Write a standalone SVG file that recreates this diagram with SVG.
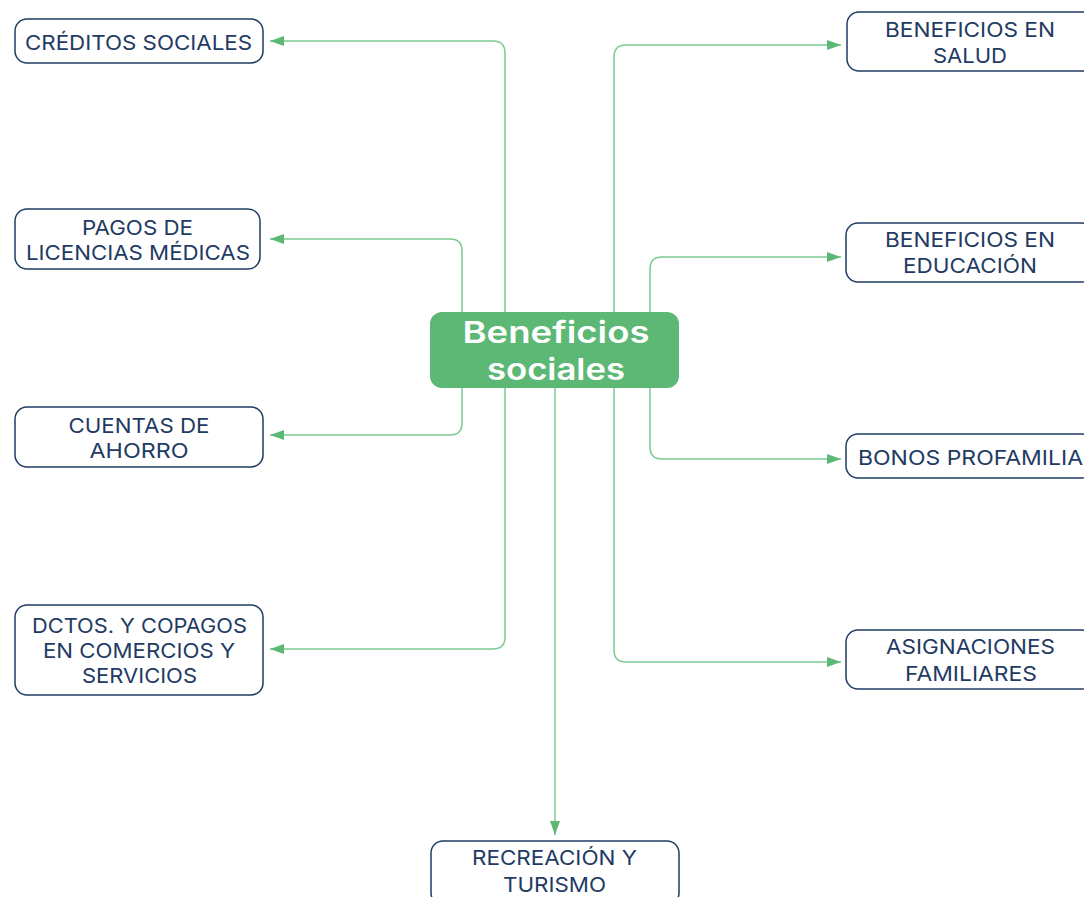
<svg xmlns="http://www.w3.org/2000/svg" width="1084" height="897" viewBox="0 0 1084 897">
<style>
.box{fill:#ffffff;stroke:#1f3b63;stroke-width:1.5}
.lbl{font-family:Inter,"DejaVu Sans",sans-serif;font-weight:400;font-size:20px;fill:#1f3b63;text-anchor:middle}
.main{font-family:Inter,"DejaVu Sans",sans-serif;font-weight:600;font-size:30px;fill:#ffffff;text-anchor:middle}
.con{fill:none;stroke:#7ccb94;stroke-width:1.5}
</style>
<defs>
<marker id="arr" markerUnits="userSpaceOnUse" markerWidth="14" markerHeight="10" refX="14" refY="5" orient="auto">
<path d="M0,0 L14,5 L0,10 z" fill="#5cb874"/>
</marker>
</defs>
<g id="connectors">
<path class="con" marker-end="url(#arr)" d="M505,312 V53 Q505,41 493,41 H270"/>
<path class="con" marker-end="url(#arr)" d="M462,312 V251 Q462,239 450,239 H270"/>
<path class="con" marker-end="url(#arr)" d="M462,388 V423 Q462,435 450,435 H270"/>
<path class="con" marker-end="url(#arr)" d="M505,388 V637 Q505,649 493,649 H270"/>
<path class="con" marker-end="url(#arr)" d="M614,312 V57 Q614,45 626,45 H841"/>
<path class="con" marker-end="url(#arr)" d="M650,312 V269 Q650,257 662,257 H841"/>
<path class="con" marker-end="url(#arr)" d="M650,388 V447 Q650,459 662,459 H841"/>
<path class="con" marker-end="url(#arr)" d="M614,388 V650 Q614,662 626,662 H841"/>
<path class="con" marker-end="url(#arr)" d="M555,388 V835"/>
</g>
<g id="center">
<rect x="430" y="312" width="249" height="76" rx="12" fill="#5cb874"/>
<text class="main" x="556" y="343" textLength="187" lengthAdjust="spacingAndGlyphs">Beneficios</text>
<text class="main" x="556" y="380" textLength="138" lengthAdjust="spacingAndGlyphs">sociales</text>
</g>
<g id="creditos">
<rect class="box" x="15" y="19" width="248" height="44" rx="12"/>
<text class="lbl" x="138.5" y="50" textLength="227" lengthAdjust="spacingAndGlyphs">CRÉDITOS SOCIALES</text>
</g>
<g id="pagos">
<rect class="box" x="15" y="209" width="245" height="60" rx="12"/>
<text class="lbl" x="137.5" y="235" textLength="111" lengthAdjust="spacingAndGlyphs">PAGOS DE</text>
<text class="lbl" x="138" y="260" textLength="224" lengthAdjust="spacingAndGlyphs">LICENCIAS MÉDICAS</text>
</g>
<g id="cuentas">
<rect class="box" x="15" y="407" width="248" height="60" rx="12"/>
<text class="lbl" x="139" y="433" textLength="141" lengthAdjust="spacingAndGlyphs">CUENTAS DE</text>
<text class="lbl" x="139" y="458" textLength="99" lengthAdjust="spacingAndGlyphs">AHORRO</text>
</g>
<g id="dctos">
<rect class="box" x="15" y="605" width="248" height="90" rx="12"/>
<text class="lbl" x="139.5" y="633" textLength="215" lengthAdjust="spacingAndGlyphs">DCTOS. Y COPAGOS</text>
<text class="lbl" x="139" y="658" textLength="192" lengthAdjust="spacingAndGlyphs">EN COMERCIOS Y</text>
<text class="lbl" x="139.5" y="683" textLength="115" lengthAdjust="spacingAndGlyphs">SERVICIOS</text>
</g>
<g id="salud">
<rect class="box" x="847" y="12" width="248" height="59" rx="12"/>
<text class="lbl" x="970" y="37" textLength="170" lengthAdjust="spacingAndGlyphs">BENEFICIOS EN</text>
<text class="lbl" x="970" y="63" textLength="74" lengthAdjust="spacingAndGlyphs">SALUD</text>
</g>
<g id="educacion">
<rect class="box" x="846" y="223" width="248" height="59" rx="12"/>
<text class="lbl" x="970" y="247" textLength="170" lengthAdjust="spacingAndGlyphs">BENEFICIOS EN</text>
<text class="lbl" x="970" y="273" textLength="134" lengthAdjust="spacingAndGlyphs">EDUCACIÓN</text>
</g>
<g id="bonos">
<rect class="box" x="846" y="434" width="248" height="44" rx="12"/>
<text class="lbl" x="970.5" y="465" textLength="225" lengthAdjust="spacingAndGlyphs">BONOS PROFAMILIA</text>
</g>
<g id="asignaciones">
<rect class="box" x="846" y="630" width="248" height="59" rx="12"/>
<text class="lbl" x="970.5" y="654" textLength="169" lengthAdjust="spacingAndGlyphs">ASIGNACIONES</text>
<text class="lbl" x="971" y="681" textLength="132" lengthAdjust="spacingAndGlyphs">FAMILIARES</text>
</g>
<g id="recreacion">
<rect class="box" x="431" y="841" width="248" height="64" rx="12"/>
<text class="lbl" x="554.5" y="865" textLength="165" lengthAdjust="spacingAndGlyphs">RECREACIÓN Y</text>
<text class="lbl" x="554.5" y="892" textLength="103" lengthAdjust="spacingAndGlyphs">TURISMO</text>
</g>
</svg>
